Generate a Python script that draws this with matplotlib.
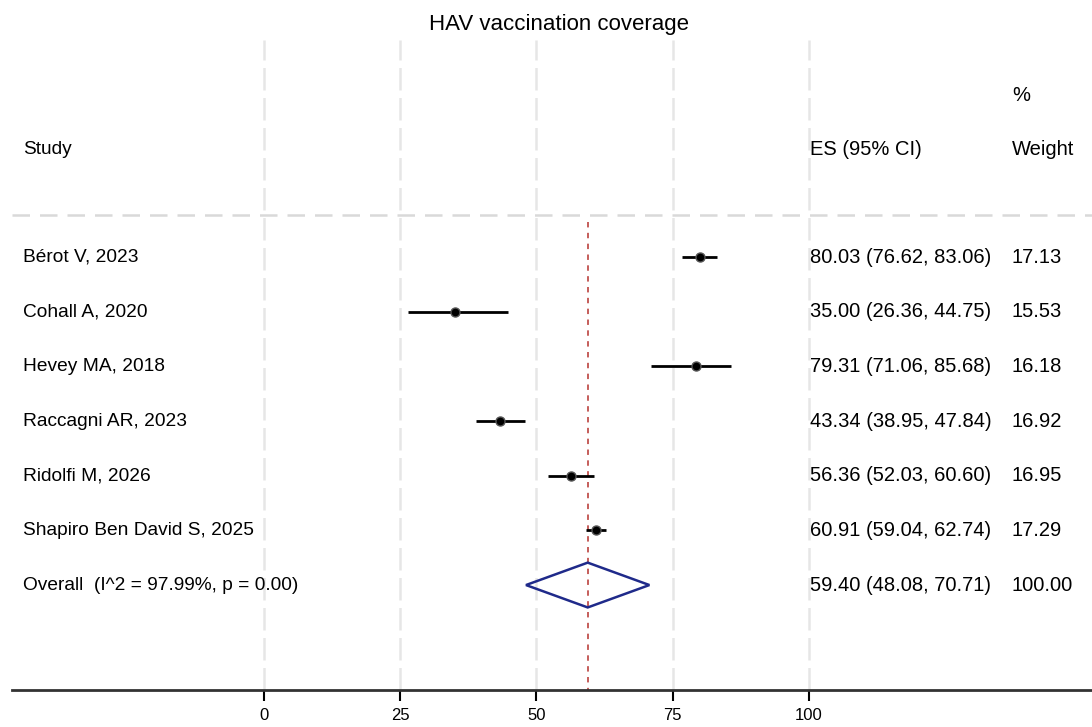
import numpy as np
import matplotlib.pyplot as plt
from matplotlib.patches import Polygon

plt.rcParams['font.family'] = ['Liberation Sans', 'DejaVu Sans']

# Datos del forest plot
studies = ["Bérot V, 2023", "Cohall A, 2020", "Hevey MA, 2018", "Raccagni AR, 2023",
           "Ridolfi M, 2026", "Shapiro Ben David S, 2025"]
es = [80.03, 35.00, 79.31, 43.34, 56.36, 60.91]
lo = [76.62, 26.36, 71.06, 38.95, 52.03, 59.04]
hi = [83.06, 44.75, 85.68, 47.84, 60.60, 62.74]
weights = [17.13, 15.53, 16.18, 16.92, 16.95, 17.29]

overall_label = "Overall  (I^2 = 97.99%, p = 0.00)"
overall_es, overall_lo, overall_hi = 59.40, 48.08, 70.71
overall_w = 100.00

xticks = [0, 25, 50, 75, 100]

fig = plt.figure(figsize=(10.92, 7.27), dpi=100)
ax = fig.add_axes([0.011, 0.0509, 0.989, 0.894])
ax.set_xlim(-46.2, 151.9)
ax.set_ylim(7.92, -3.97)

fs = 14.5
fs_study = 13.8

# grid vertical
for t in xticks:
    ax.axvline(t, color='#e6e6e6', lw=1.8, ls=(0, (9, 3)), zorder=0)

# linea horizontal bajo encabezado
ax.axhline(-0.77, color='#d9d9d9', lw=1.8, ls=(0, (7, 4)), zorder=0)

# linea del efecto global
ax.plot([overall_es, overall_es], [-0.64, 7.92], color='#c0504d', lw=1.3,
        ls=(0, (3, 3)), zorder=1)

rows = np.arange(len(studies))
for i in rows:
    ax.plot([lo[i], hi[i]], [i, i], color='black', lw=2, zorder=3, solid_capstyle='butt')
    ax.plot(es[i], i, marker='o', color='black', ms=6.5, mec='#555555', mew=1, zorder=4)
    ax.text(-44.2, i, studies[i], va='center', ha='left', fontsize=fs_study)
    ax.text(100.2, i, f"{es[i]:.2f} ({lo[i]:.2f}, {hi[i]:.2f})", va='center', ha='left', fontsize=fs)
    ax.text(137.2, i, f"{weights[i]:.2f}", va='center', ha='left', fontsize=fs)

yo = len(studies)
diamond = Polygon([[overall_lo, yo], [overall_es, yo - 0.41], [overall_hi, yo], [overall_es, yo + 0.41]],
                  closed=True, fill=False, edgecolor='#1f2a8a', lw=1.8, zorder=3)
ax.add_patch(diamond)
ax.text(-44.2, yo, overall_label, va='center', ha='left', fontsize=fs_study)
ax.text(100.2, yo, f"{overall_es:.2f} ({overall_lo:.2f}, {overall_hi:.2f})", va='center', ha='left', fontsize=fs)
ax.text(137.2, yo, f"{overall_w:.2f}", va='center', ha='left', fontsize=fs)

# encabezados
ax.text(-44.2, -1.96, "Study", va='center', ha='left', fontsize=fs_study)
ax.text(100.2, -1.96, "ES (95% CI)", va='center', ha='left', fontsize=fs)
ax.text(137.2, -1.96, "Weight", va='center', ha='left', fontsize=fs)
ax.text(137.2, -2.96, "%", va='center', ha='left', fontsize=fs)

fig.text(0.512, 0.966, "HAV vaccination coverage", ha='center', va='center', fontsize=16)

for s in ['top', 'left', 'right']:
    ax.spines[s].set_visible(False)
ax.spines['bottom'].set_color('#333333')
ax.spines['bottom'].set_linewidth(2)
ax.set_yticks([])
ax.set_xticks(xticks)
ax.tick_params(axis='x', length=8, width=1.5, labelsize=12, pad=5)

plt.savefig('out.png', dpi=100)
